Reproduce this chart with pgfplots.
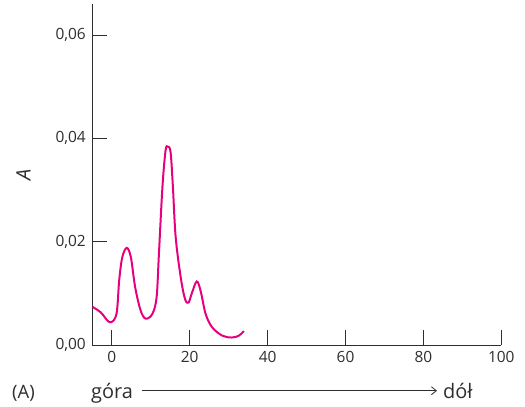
\documentclass[border=0pt]{standalone}
\usepackage{fontspec}
\setmainfont{Open Sans}
\usepackage{pgfplots}
\pgfplotsset{compat=1.18}
\usetikzlibrary{arrows.meta}
\definecolor{axgray}{HTML}{2E2E2E}
\definecolor{magenta}{HTML}{E6007E}
\begin{document}
\begin{tikzpicture}[x=1bp,y=1bp]
\begin{axis}[
  scale only axis, width=409bp, height=341bp,
  xmin=-5, xmax=100, ymin=0, ymax=0.066,
  axis x line=bottom, axis y line=left,
  axis line style={-, axgray, line width=0.9pt},
  xtick={0,20,...,100}, ytick={0,0.02,0.04,0.06},
  tick align=inside, major tick length=15bp,
  tick style={axgray, line width=0.9pt},
  minor tick num=0,
  /pgf/number format/assume math mode=true,
  tick label style={font=\fontsize{15.5}{17}\selectfont, text=axgray},
  xticklabel style={yshift=-3bp},
  yticklabel style={xshift=-3bp, /pgf/number format/.cd, fixed, fixed zerofill, precision=2, use comma},
  scaled y ticks=false,
  ylabel={\itshape A},
  ylabel style={font=\fontsize{20}{22}\selectfont, text=axgray, at={(axis description cs:-0.168,0.5)}, anchor=center},
]
\addplot[magenta, line width=2pt, smooth, tension=0.55] coordinates {
(-5,0.0074) (-2.8,0.0063) (-0.5,0.0044) (1.2,0.0060) (1.9,0.0125) (2.7,0.0170)
(3.85,0.0188) (4.9,0.0170) (6.0,0.0112) (7.4,0.0067) (8.7,0.0051) (10.4,0.0060)
(11.5,0.0092) (12.1,0.0176) (13.0,0.0305) (13.8,0.0376) (14.4,0.0384) (15.1,0.0373)
(15.7,0.0305) (16.4,0.0209) (17.7,0.0131) (18.8,0.0089) (19.7,0.0082) (20.5,0.0099)
(21.8,0.0123) (22.8,0.0105) (24.1,0.0060) (25.8,0.0034) (28.4,0.0018) (30.8,0.00145)
(32.6,0.0018) (33.9,0.0027)
};
\end{axis}
% annotations below the axis (pixel coords relative to axis origin at px 92.3, 345)
\node[anchor=base west, text=axgray, font=\fontsize{18.5}{20}\selectfont, inner sep=0] at (12-92.3,345-398) {(A)};
\node[anchor=base west, text=axgray, font=\fontsize{20}{22}\selectfont, inner sep=0] at (91-92.3,345-398) {góra};
\draw[axgray, line width=0.8pt, -{Straight Barb[length=5bp,width=8bp]}] (142-92.3,345-390.7) -- (437-92.3,345-390.7);
\node[anchor=base west, text=axgray, font=\fontsize{20}{22}\selectfont, inner sep=0] at (443-92.3,345-398) {dół};
\path (-92.3,345-406) rectangle (525-92.3,345);
\end{tikzpicture}
\end{document}
